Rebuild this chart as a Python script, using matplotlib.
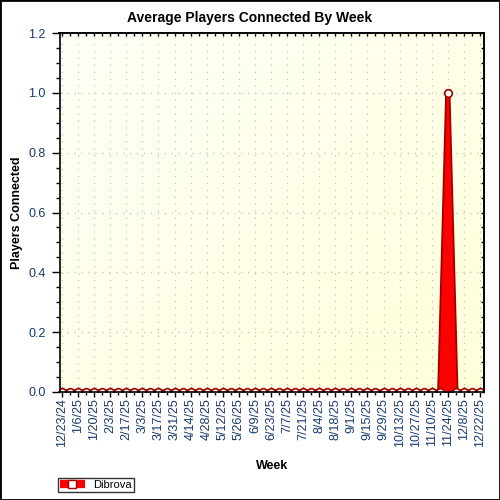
import numpy as np
import pandas as pd
import matplotlib
matplotlib.use("Agg")
import matplotlib.pyplot as plt
import matplotlib.dates as mdates
from matplotlib.lines import Line2D
from matplotlib.patches import Rectangle

plt.rcParams['font.family'] = ['Liberation Sans', 'DejaVu Sans']

weeks = pd.date_range("2024-12-23", "2025-12-22", freq="7D")
values = [0.0] * len(weeks)
values[list(weeks).index(pd.Timestamp("2025-11-24"))] = 1.0
series_name = "Dibrova"
title = "Average Players Connected By Week"
xlabel = "Week"
ylabel = "Players Connected"
tick_dates = weeks[::2]

fig = plt.figure(figsize=(5, 5), dpi=100)
ax = fig.add_axes([0.119, 0.216, 0.849, 0.718])

# gradient background
grad = np.zeros((100, 100, 3))
yy, xx = np.mgrid[0:1:100j, 0:1:100j]
t = np.clip((xx + yy) / 2.0, 0, 1)
top = np.array([255, 255, 248]) / 255
bot = np.array([255, 255, 218]) / 255
for c in range(3):
    grad[..., c] = top[c] * (1 - t) + bot[c] * t
ax.imshow(grad, extent=[0, 1, 0, 1], transform=ax.transAxes, aspect='auto', zorder=-1)

x = mdates.date2num(weeks)
ax.plot(x, values, color='#A00000', linewidth=3.8, zorder=2)
ax.fill_between(x, 0, values, color='#FF0000', linewidth=0, zorder=2.5)
ax.plot(x, values, color='#FF0000', linewidth=1.2, zorder=2.6)
ax.plot(x, values, color='#A00000', linewidth=0, marker='o', markersize=5.5,
        markerfacecolor='white', markeredgecolor='#A00000', markeredgewidth=1.2, zorder=4)

ax.set_xlim(x[0] - 2.2, x[-1] + 3.5)
ax.set_ylim(0, 1.2)
ax.set_xticks(mdates.date2num(tick_dates))
ax.set_xticklabels([f"{d.month}/{d.day}/{d.year % 100}" for d in tick_dates], rotation=90)
ax.set_xticks(x, minor=True)
yt = np.arange(0, 1.21, 0.2)
ax.set_yticks(yt)
ax.set_yticklabels([f"{v:.1f}" for v in yt])
ax.set_yticks(np.arange(0, 1.201, 0.05), minor=True)

lblcol = '#163a70'
ax.tick_params(axis='both', which='major', labelsize=9, labelcolor=lblcol, color='black')
ax.tick_params(axis='x', which='major', direction='inout', length=6.5, width=1, pad=1)
ax.tick_params(axis='x', which='minor', direction='out', length=2, width=1)
ax.tick_params(axis='y', which='major', direction='out', length=6, width=1, pad=4)
ax.tick_params(axis='y', which='minor', direction='out', length=3, width=1)

ax.grid(True, which='major', color='#c8c8c8', linestyle=(0, (1, 4)), linewidth=1)
ax.set_axisbelow(True)
for s in ax.spines.values():
    s.set_linewidth(1.2)
    s.set_zorder(5)

# inward ticks on top and right
sx = ax.secondary_xaxis('top')
sx.set_xticks(x)
sx.set_xticklabels([])
sx.tick_params(direction='in', length=2.5, width=1)
sy = ax.secondary_yaxis('right')
sy.set_yticks(np.arange(0, 1.201, 0.05))
sy.set_yticklabels([])
sy.tick_params(direction='in', length=2.5, width=1)
for s in list(sx.spines.values()) + list(sy.spines.values()):
    s.set_linewidth(1.2)

fig.text(0.5, 1 - 18 / 500, title, fontsize=10, fontweight='bold', ha='center', va='center')
ax.set_xlabel(xlabel, fontsize=9, fontweight='bold')
ax.xaxis.set_label_coords(0.5, -0.19)
ax.set_ylabel(ylabel, fontsize=9, fontweight='bold')
ax.yaxis.set_label_coords(-0.086, 0.5)

handle = Line2D([0], [0], color='#FF0000', linewidth=6, marker='s', markersize=6,
                markerfacecolor='white', markeredgecolor='#A00000', solid_capstyle='butt')
leg = fig.legend([handle], [series_name], loc='lower left', bbox_to_anchor=(0.116, 0.016),
                 fontsize=8, frameon=True, fancybox=False, edgecolor='black',
                 handlelength=2.2, borderpad=0.2, handletextpad=0.8, borderaxespad=0)
leg.get_frame().set_linewidth(1)

fig.patches.append(Rectangle((0, 0), 1, 1, transform=fig.transFigure, fill=False,
                             edgecolor='black', linewidth=2))

fig.savefig("out.png", dpi=100)
